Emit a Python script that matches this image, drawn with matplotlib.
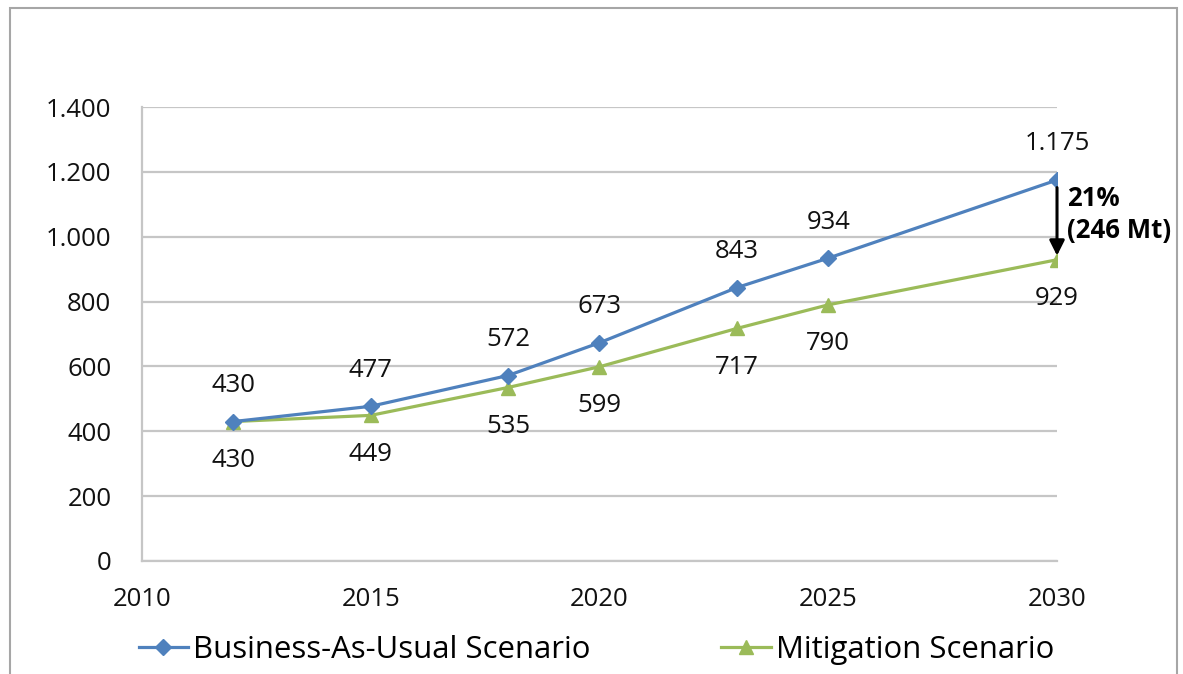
import matplotlib.pyplot as plt
from matplotlib.patches import Rectangle
from matplotlib.ticker import FuncFormatter

# data
years = [2012, 2015, 2018, 2020, 2023, 2025, 2030]
bau = [430, 477, 572, 673, 843, 934, 1175]
mitigation = [430, 449, 535, 599, 717, 790, 929]
x_ticks = [2010, 2015, 2020, 2025, 2030]
y_ticks = [0, 200, 400, 600, 800, 1000, 1200, 1400]
series_labels = ['Business-As-Usual Scenario', 'Mitigation Scenario']
gap_text = '21%\n(246 Mt)'

plt.rcParams['font.family'] = ['Open Sans', 'DejaVu Sans']

blue = '#4F81BD'
green = '#9BBB59'
grid_c = '#c6c6c6'


def dot_thousands(v, pos=None):
    return f'{int(round(v)):,}'.replace(',', '.')


fig = plt.figure(figsize=(11.83, 6.74), dpi=100)
ax = fig.add_axes([0.12, 0.1677, 0.7735, 0.6735])

ax.plot(years, bau, color=blue, lw=2.3, marker='D', ms=8.5,
        label=series_labels[0], zorder=4)
ax.plot(years, mitigation, color=green, lw=2.3, marker='^', ms=10,
        label=series_labels[1], zorder=3)

# data labels
for x, v in zip(years, bau):
    ax.annotate(dot_thousands(v), (x, v), xytext=(0, 36), textcoords='offset pixels',
                ha='center', va='center', fontsize=18.5, color='#111111')
for x, v in zip(years, mitigation):
    ax.annotate(dot_thousands(v), (x, v), xytext=(0, -39), textcoords='offset pixels',
                ha='center', va='center', fontsize=18.5, color='#111111')

# gap arrow at 2030
ax.annotate('', xy=(years[-1], mitigation[-1] + 4), xytext=(years[-1], bau[-1] - 15),
            arrowprops=dict(arrowstyle='-|>,head_length=0.9,head_width=0.45',
                            color='black', lw=2.2), zorder=5)
ax.annotate(gap_text, (years[-1], (bau[-1] + mitigation[-1]) / 2), xytext=(10, 5),
            textcoords='offset pixels', ha='left', va='center', fontsize=18.5,
            fontweight='bold', linespacing=1.25, annotation_clip=False)

ax.set_xlim(2010, 2030)
ax.set_ylim(0, 1400)
ax.set_xticks(x_ticks)
ax.set_yticks(y_ticks)
ax.yaxis.set_major_formatter(FuncFormatter(dot_thousands))
ax.tick_params(axis='both', length=0, labelsize=18.5, colors='#111111')
ax.tick_params(axis='y', pad=22)
ax.tick_params(axis='x', pad=19)

ax.grid(axis='y', color=grid_c, lw=1.6)
ax.set_axisbelow(True)
for s in ['top', 'right']:
    ax.spines[s].set_visible(False)
ax.spines['left'].set_color(grid_c)
ax.spines['left'].set_linewidth(1.6)
ax.spines['bottom'].set_color(grid_c)
ax.spines['bottom'].set_linewidth(1.6)

fig.legend(loc='center', bbox_to_anchor=(0.504, 0.036), ncol=2, frameon=False,
           fontsize=22.4, handlelength=1.6, handletextpad=0.15, columnspacing=4.2)

# outer chart border
fig.patches.append(Rectangle((10 / 1183, -0.01), 1167 / 1183, 1 - 8 / 674 + 0.01,
                             transform=fig.transFigure, fill=False,
                             edgecolor='#a6a6a6', lw=1.5))

fig.savefig('out.png', dpi=100)
